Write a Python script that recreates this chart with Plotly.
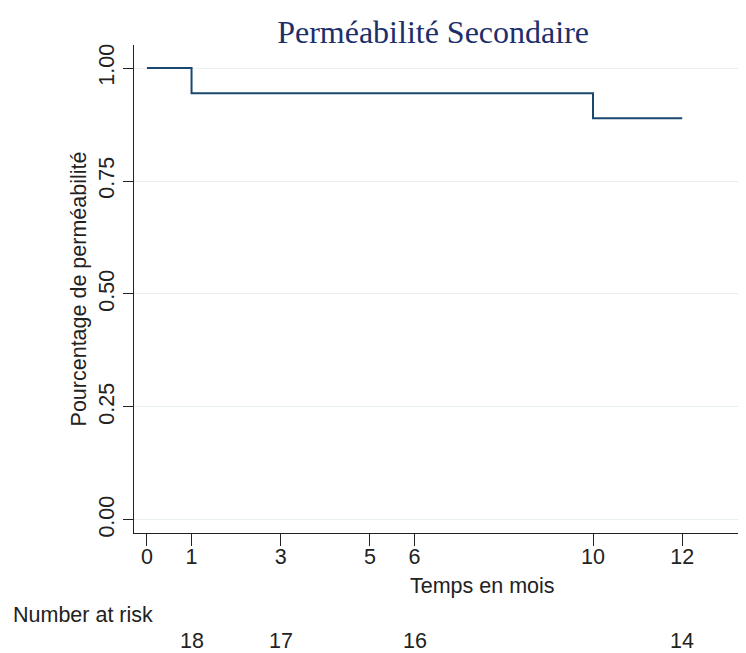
import plotly.graph_objects as go

# Data
times = [0, 1, 10, 12]
survival = [1.0, 0.9444, 0.8889, 0.8889]
x_ticks = [0, 1, 3, 5, 6, 10, 12]
y_ticks = [0.0, 0.25, 0.5, 0.75, 1.0]
y_ticklabels = ["0.00", "0.25", "0.50", "0.75", "1.00"]
risk_times = [1, 3, 6, 12]
risk_counts = [18, 17, 16, 14]

fig = go.Figure()
fig.add_trace(go.Scatter(
    x=times, y=survival, mode="lines", line_shape="hv",
    line=dict(color="#1a476f", width=2), showlegend=False, hoverinfo="skip"))

axis_font = dict(family="Liberation Sans, Arial", size=21.5, color="#222222")

for t, n in zip(risk_times, risk_counts):
    fig.add_annotation(x=t, xref="x", y=-0.221, yref="paper", text=str(n),
                       showarrow=False, font=axis_font, xanchor="center", yanchor="middle")
fig.add_annotation(x=-0.201, xref="paper", y=-0.168, yref="paper", text="Number at risk",
                   showarrow=False, font=axis_font, xanchor="left", yanchor="middle")
fig.add_annotation(x=0.570, xref="paper", y=-0.109, yref="paper", text="Temps en mois",
                   showarrow=False, font=axis_font, xanchor="center", yanchor="middle")

fig.update_layout(
    width=738, height=645,
    margin=dict(l=126, r=0, t=37, b=120),
    paper_bgcolor="white", plot_bgcolor="white",
    title=dict(text="Perméabilité Secondaire", x=0.576, xanchor="center", y=0.963, yanchor="middle",
               font=dict(family="Liberation Serif, Times New Roman", size=32, color="#1c2f6b")),
    xaxis=dict(range=[-0.29, 13.43], tickvals=x_ticks, ticks="outside", ticklen=12,
               ticklabelstandoff=-8,
               tickcolor="#222222", showline=True, linecolor="#222222", linewidth=1.2,
               showgrid=False, zeroline=False, tickfont=axis_font),
    yaxis=dict(range=[-0.029, 1.051], tickvals=y_ticks, ticktext=y_ticklabels,
               tickangle=-90, ticks="outside", ticklen=10, tickcolor="#222222",
               showline=True, linecolor="#222222", linewidth=1.2,
               showgrid=True, gridcolor="#e8eff1", gridwidth=1, zeroline=False,
               tickfont=axis_font,
               title=dict(text="Pourcentage de perméabilité", font=axis_font, standoff=2)),
)

fig.write_html("out.html")
